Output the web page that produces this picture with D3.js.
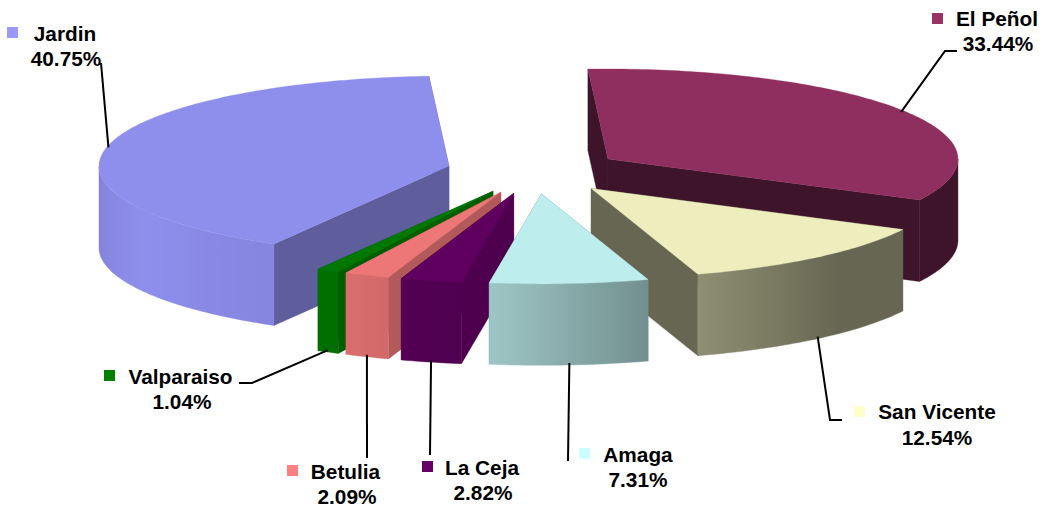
<!DOCTYPE html>
<html><head><meta charset="utf-8">
<script src="https://cdn.jsdelivr.net/npm/d3@7"></script>
<style>html,body{margin:0;padding:0;background:#fff}svg{display:block}
text{font-family:"Liberation Sans",Arial,sans-serif;font-weight:bold;font-size:20.8px;fill:#000}</style>
</head><body><svg id="c" width="1043" height="510"></svg>
<script>
// Data
const categories = ["Jardin","El Peñol","San Vicente","Amaga","La Ceja","Betulia","Valparaiso"];
const shares = [40.75,33.44,12.54,7.31,2.82,2.09,1.04];
const valueLabels = ["40.75%","33.44%","12.54%","7.31%","2.82%","2.09%","1.04%"];
// Style
const keyColors = ["#9999FF","#993366","#FFFFCC","#CCFFFF","#660066","#FF8080","#008000"];
const wallShade = [0.66,0.43,0.43,0.6,0.82,0.75,0.78];
const paintOrder = [0,1,2,6,5,4,3];
// Layout of the pseudo-3D pie
const W=1043,H=510, RX=350, RY=90, DEPTH=81.5, EXPLODE=87.8, CX=534.4, CY=171.3, TOPSHADE=0.93;
// Label layout: key square, name centre/baseline, value centre/baseline, leader elbow points
const labelLayout = [
 {key:[7,27],   name:[65,41],   value:[66,66],   leader:[[101,63]]},
 {key:[932,13], name:[997,26],  value:[998,51],  leader:[[945,51],[957,51]]},
 {key:[854,406],name:[937,419], value:[937,445], leader:[[830,420],[842,420]]},
 {key:[579,448],name:[638,462], value:[638,487], leader:[[568,461]]},
 {key:[422,461],name:[482,475], value:[483,500], leader:[[430,455]]},
 {key:[287,465],name:[345.5,479], value:[347,504], leader:[[367,458]]},
 {key:[104,370],name:[180.5,384], value:[182,409], leader:[[252,383],[239,383]]}
];
const rad=Math.PI/180;
const light = d3.scaleLinear().domain([90,135,162,188,210,240,270]).range([0.43,0.43,0.6,0.83,0.94,1,0.91]);
const svg=d3.select("#c"), defs=svg.append("defs");
const arcs=d3.pie().sort(null).value(d=>d).startAngle(210*rad).endAngle(570*rad)(shares);
const line=d3.line();
const shade=(c,f)=>{const o=d3.rgb(c);return d3.rgb(o.r*f,o.g*f,o.b*f).formatHex();};
const slices=arcs.map((a,i)=>{
  const a0=a.startAngle,a1=a.endAngle,m=(a0+a1)/2;
  const ax=CX+EXPLODE*Math.sin(m), ay=CY-EXPLODE*Math.cos(m)*RY/RX;
  const rim=(t,z=0)=>[ax+RX*Math.sin(t), ay-RY*Math.cos(t)+z];
  return {i,a0,a1,m,ax,ay,rim};
});
function angles(a,b){const n=Math.max(2,Math.ceil((b-a)/rad));return d3.range(n+1).map(k=>a+(b-a)*k/n);}
const frontBands=[[90,270],[450,630]];
const g=svg.append("g");

// leaders beneath the pie
slices.forEach(s=>{
  const deg=s.m/rad%360, front=deg>90&&deg<270;
  const start=s.rim(s.m,front?DEPTH-2:2);
  svg.append("path").attr("d",line([start,...labelLayout[s.i].leader])).attr("fill","none").attr("stroke","#000").attr("stroke-width",2);
});

paintOrder.forEach(i=>{
  const s=slices[i], top=shade(keyColors[i],TOPSHADE), wall=shade(top,wallShade[i]);
  const sg=g.append("g");
  const apex=[s.ax,s.ay], apexB=[s.ax,s.ay+DEPTH];
  [s.a0,s.a1].forEach(t=>{
    const p=s.rim(t);
    sg.append("path").attr("d",line([apex,p,[p[0],p[1]+DEPTH],apexB])+"Z").attr("fill",wall).attr("stroke",wall).attr("stroke-width",0.4);
  });
  frontBands.forEach((b,bi)=>{
    const l=Math.max(b[0]*rad,s.a0), r=Math.min(b[1]*rad,s.a1);
    if(r<=l) return;
    const ts=angles(l,r), id=`w${i}_${bi}`;
    const pts=ts.map(t=>s.rim(t));
    const x0=s.rim(l)[0], x1=s.rim(r)[0];
    const grad=defs.append("linearGradient").attr("id",id).attr("gradientUnits","userSpaceOnUse")
      .attr("x1",x0).attr("x2",x1===x0?x0+1:x1).attr("y1",0).attr("y2",0);
    ts.forEach(t=>{
      const x=s.rim(t)[0];
      grad.append("stop").attr("offset",(x-x0)/(x1-x0)).attr("stop-color",shade(top,light(t/rad%360)));
    });
    const bottom=ts.slice().reverse().map(t=>s.rim(t,DEPTH));
    sg.append("path").attr("d",line([...pts,...bottom])+"Z").attr("fill",`url(#${id})`).attr("stroke",`url(#${id})`).attr("stroke-width",0.4);
  });
  const topPts=[apex,...angles(s.a0,s.a1).map(t=>s.rim(t))];
  sg.append("path").attr("d",line(topPts)+"Z").attr("fill",top).attr("stroke",top).attr("stroke-width",0.3);
});

// labels
categories.forEach((c,i)=>{
  const L=labelLayout[i];
  svg.append("rect").attr("x",L.key[0]).attr("y",L.key[1]).attr("width",11).attr("height",11).attr("fill",keyColors[i]);
  svg.append("text").attr("x",L.name[0]).attr("y",L.name[1]).attr("text-anchor","middle").text(c);
  svg.append("text").attr("x",L.value[0]).attr("y",L.value[1]).attr("text-anchor","middle").text(valueLabels[i]);
});
</script></body></html>
